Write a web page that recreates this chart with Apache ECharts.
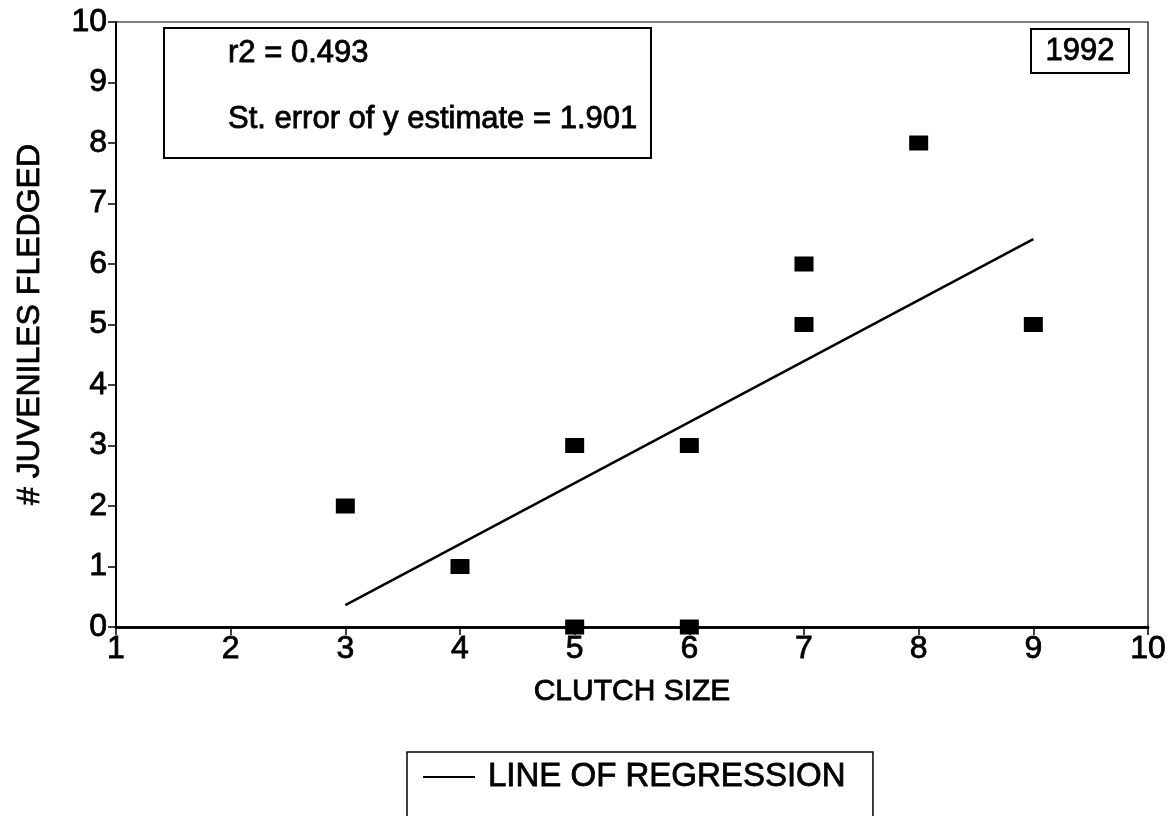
<!DOCTYPE html>
<html>
<head>
<meta charset="utf-8">
<script src="https://cdn.jsdelivr.net/npm/echarts@6/dist/echarts.min.js"></script>
<style>
html,body{margin:0;padding:0;background:#fff;}
#chart{width:1172px;height:816px;}
</style>
</head>
<body>
<div id="chart"></div>
<script>
// Data
const clutchSize   = [3, 4, 5, 5, 6, 6, 7, 7, 8, 9];
const fledged      = [2, 1, 3, 0, 3, 0, 6, 5, 8, 5];
const regressionX  = [3, 9];
const regressionY  = [0.36, 6.41];
const xTicks       = [1, 2, 3, 4, 5, 6, 7, 8, 9, 10];
const yTicks       = [0, 1, 2, 3, 4, 5, 6, 7, 8, 9, 10];
const statsLines   = ['r2 = 0.493', 'St. error of y estimate = 1.901'];
const yearLabel    = '1992';
const xTitle       = 'CLUTCH SIZE';
const yTitle       = '# JUVENILES FLEDGED';
const legendName   = 'LINE OF REGRESSION';

const FONT = '"Liberation Sans", Arial, Helvetica, sans-serif';
const BOLDEN = {textBorderColor: '#000', textBorderWidth: 0.8};
const chart = echarts.init(document.getElementById('chart'), null, {renderer: 'canvas'});

const points = clutchSize.map((x, i) => [x, fledged[i]]);
const regLine = regressionX.map((x, i) => [x, regressionY[i]]);

const option = {
  backgroundColor: '#ffffff',
  animation: false,
  textStyle: {fontFamily: FONT, color: '#000'},
  grid: {left: 116, right: 24, top: 22, bottom: 189, show: true, borderColor: '#000', borderWidth: 1.2},
  legend: {
    data: [legendName],
    left: 407, top: 752,
    orient: 'horizontal',
    padding: [8, 27, 30, 16],
    borderColor: '#000', borderWidth: 1.5,
    itemWidth: 52, itemHeight: 14, itemGap: 10,
    textStyle: Object.assign({fontFamily: FONT, fontSize: 33, color: '#000', padding: [0, 0, 0, 8]}, BOLDEN),
    icon: 'path://M0,0 L52,0 L52,2 L0,2 Z',
    itemStyle: {color: '#000'}
  },
  xAxis: [{
    type: 'value', min: xTicks[0], max: xTicks[xTicks.length - 1], interval: 1,
    name: xTitle, nameLocation: 'middle', nameGap: 50,
    nameTextStyle: Object.assign({fontFamily: FONT, fontSize: 30, color: '#000'}, BOLDEN),
    axisLine: {show: true, onZero: false, lineStyle: {color: '#000', width: 2.5}},
    axisTick: {show: true, inside: false, length: 8, lineStyle: {color: '#000', width: 1.5}},
    axisLabel: Object.assign({fontFamily: FONT, fontSize: 32, color: '#000', margin: 6}, BOLDEN),
    splitLine: {show: false}
  }, {
    type: 'value', position: 'top', min: xTicks[0], max: xTicks[xTicks.length - 1], interval: 1,
    axisLine: {show: true, lineStyle: {color: '#000', width: 2.5}},
    axisTick: {show: false}, axisLabel: {show: false}, splitLine: {show: false}
  }],
  yAxis: {
    type: 'value', min: yTicks[0], max: yTicks[yTicks.length - 1], interval: 1,
    name: yTitle, nameLocation: 'middle', nameGap: 70, nameRotate: 90,
    nameTextStyle: Object.assign({fontFamily: FONT, fontSize: 32, color: '#000'}, BOLDEN),
    axisLine: {show: true, onZero: false, lineStyle: {color: '#000', width: 2}},
    axisTick: {show: true, inside: false, length: 8, lineStyle: {color: '#000', width: 1.5}},
    axisLabel: Object.assign({fontFamily: FONT, fontSize: 32, color: '#000', margin: 9}, BOLDEN),
    splitLine: {show: false}
  },
  series: [{
    name: legendName,
    type: 'line',
    data: regLine,
    symbol: 'none',
    lineStyle: {color: '#000', width: 2.5},
    z: 3
  }, {
    name: 'data',
    type: 'scatter',
    data: points,
    symbol: 'rect',
    symbolSize: [19, 15],
    itemStyle: {color: '#000', opacity: 1},
    z: 4
  }],
  graphic: [{
    type: 'group', left: 163, top: 27,
    children: [{
      type: 'rect', shape: {x: 0, y: 0, width: 487, height: 130},
      style: {fill: '#fff', stroke: '#000', lineWidth: 2}
    }, {
      type: 'text', x: 64, y: 25,
      style: {text: statsLines[0], font: '31px ' + FONT, fill: '#000', stroke: '#000', lineWidth: 0.8, verticalAlign: 'middle'}
    }, {
      type: 'text', x: 64, y: 91,
      style: {text: statsLines[1], font: '31px ' + FONT, fill: '#000', stroke: '#000', lineWidth: 0.8, verticalAlign: 'middle'}
    }]
  }, {
    type: 'group', left: 1030, top: 28,
    children: [{
      type: 'rect', shape: {x: 0, y: 0, width: 98, height: 44},
      style: {fill: '#fff', stroke: '#000', lineWidth: 2}
    }, {
      type: 'text', x: 49, y: 22,
      style: {text: yearLabel, font: '31px ' + FONT, fill: '#000', stroke: '#000', lineWidth: 0.8, align: 'center', verticalAlign: 'middle'}
    }]
  }]
};
chart.setOption(option);
</script>
</body>
</html>
